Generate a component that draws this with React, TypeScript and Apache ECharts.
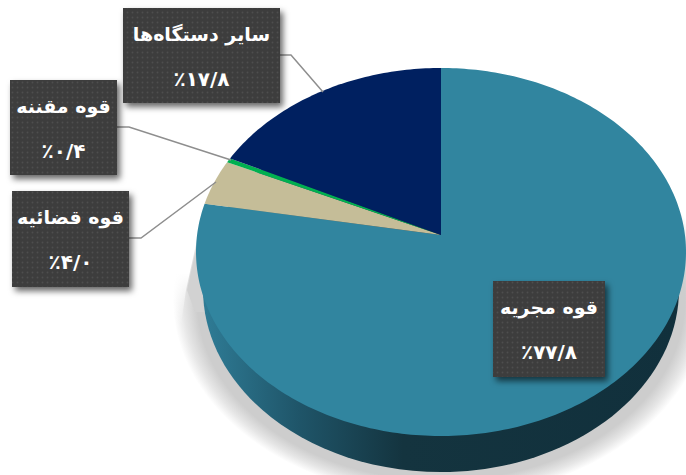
import React, { useEffect, useRef } from "react";
import * as echarts from "echarts";

const categories = ["قوه مجریه", "قوه قضائیه", "قوه مقننه", "سایر دستگاه‌ها"];
const shares = [77.8, 4.0, 0.4, 17.8];
const colors = ["#31859F", "#C5BD98", "#00B050", "#002060"];

// Label placement per category: box [x, y, w, h] and leader-line corner points.
const boxes = [
  [493, 281, 112, 96],
  [12, 191, 117, 96],
  [10, 80, 107, 95],
  [123, 8, 157, 95],
];
const leaders: number[][][] = [
  [],
  [[129, 238], [141, 238], [216, 182]],
  [[117, 127], [129, 127], [231, 160]],
  [[280, 55], [291, 55], [323, 92]],
];

const CX = 441, CY = 252, RX = 245, RY = 184, TILT = 0.092;
const FONT = '"DejaVu Sans", sans-serif';

// Perspective map from a point on the flat pie to the tilted disc,
// which sends the pie's centre slightly above the ellipse's centre.
function project(u: number, v: number): number[] {
  const d = 1 + TILT * v;
  const X = (u * Math.sqrt(1 - TILT * TILT)) / d;
  const Y = (v + TILT) / d;
  return [CX + RX * X, CY - RY * Y];
}

const persian = (n: number) =>
  n.toFixed(1).replace(".", "/").replace(/\d/g, (d) => "۰۱۲۳۴۵۶۷۸۹"[+d]);

function dotTile(): HTMLCanvasElement {
  const c = document.createElement("canvas");
  c.width = 5;
  c.height = 5;
  const g = c.getContext("2d")!;
  g.fillStyle = "#3D3D3D";
  g.fillRect(0, 0, 5, 5);
  g.fillStyle = "#4E4E4E";
  g.beginPath();
  g.arc(2.5, 2.5, 1, 0, Math.PI * 2);
  g.fill();
  return c;
}

export default function App() {
  const ref = useRef<HTMLDivElement>(null);
  useEffect(() => {
    const chart = echarts.init(ref.current!, undefined, { renderer: "svg" });
    const total = shares.reduce((a, b) => a + b, 0);
    const tile = dotTile();
    const pattern: any = { image: tile, repeat: "repeat", imageWidth: 5, imageHeight: 5 };

    const slices = (idx: number) => {
      const start = shares.slice(0, idx).reduce((a, b) => a + b, 0) / total;
      const end = start + shares[idx] / total;
      const apex = project(0, 0);
      const pts = [apex];
      const n = Math.max(2, Math.ceil((end - start) * 360));
      for (let i = 0; i <= n; i++) {
        const t = (start + ((end - start) * i) / n) * Math.PI * 2;
        pts.push(project(Math.sin(t), Math.cos(t)));
      }
      return pts;
    };

    const base = [
      {
        type: "ellipse",
        shape: { cx: 441, cy: 300, rx: 268, ry: 198 },
        style: {
          fill: {
            type: "radial", x: 0.5, y: 0.5, r: 0.5,
            colorStops: [
              { offset: 0, color: "rgba(205,205,205,1)" },
              { offset: 0.91, color: "rgba(205,205,205,1)" },
              { offset: 0.96, color: "rgba(205,205,205,0.5)" },
              { offset: 1, color: "rgba(205,205,205,0)" },
            ],
          },
        },
      },
      {
        type: "polygon",
        shape: { points: [[207, 195], [186, 290], [181, 325], [150, 325], [150, 195]] },
        style: {
          fill: {
            type: "linear", x: 0, y: 0, x2: 0, y2: 1,
            colorStops: [
              { offset: 0, color: "rgba(255,255,255,1)" },
              { offset: 0.6, color: "rgba(255,255,255,1)" },
              { offset: 1, color: "rgba(255,255,255,0)" },
            ],
          },
        },
      },
      {
        type: "polygon",
        shape: { points: [[207, 200], [187, 290], [195, 312], [215, 312], [215, 200]] },
        style: { fill: "#D2D2D2" },
      },
      {
        type: "ellipse",
        shape: { cx: 441, cy: 289, rx: 238, ry: 183 },
        style: {
          fill: {
            type: "linear", x: 0, y: 0, x2: 1, y2: 0,
            colorStops: [
              { offset: 0, color: "#2F7C96" },
              { offset: 0.2, color: "#1F5569" },
              { offset: 0.42, color: "#14343F" },
              { offset: 1, color: "#11303C" },
            ],
          },
        },
      },
    ];

    const option: any = {
      animation: false,
      backgroundColor: "#FFFFFF",
      series: [
        {
          type: "custom",
          coordinateSystem: "none",
          clip: false,
          silent: true,
          data: shares.map((v, i) => ({ name: categories[i], value: [v, i] })),
          renderItem: (params: any, api: any) => {
            const i = api.value(1);
            return {
              type: "group",
              children: [
                ...(i === 0 ? base : []),
                { type: "polygon", shape: { points: slices(i) }, style: { fill: colors[i] } },
              ],
            };
          },
          z: 1,
        },
        {
          type: "custom",
          coordinateSystem: "none",
          clip: false,
          silent: true,
          data: shares.map((v, i) => ({ name: categories[i], value: [v, i] })),
          renderItem: (params: any, api: any) => {
            const i = api.value(1);
            const [x, y, w, h] = boxes[i];
            const kids: any[] = [];
            if (leaders[i].length) {
              kids.push({
                type: "polyline",
                shape: { points: leaders[i] },
                style: { stroke: "#8E8E8E", lineWidth: 1.5, fill: "none" },
              });
            }
            kids.push(
              {
                type: "rect",
                shape: { x, y, width: w, height: h },
                style: {
                  fill: "#3D3D3D",
                  shadowBlur: 6,
                  shadowOffsetX: 3,
                  shadowOffsetY: 4,
                  shadowColor: "rgba(0,0,0,0.6)",
                },
              },
              { type: "rect", shape: { x, y, width: w, height: h }, style: { fill: pattern } },
              {
                type: "text",
                style: {
                  x: x + w / 2, y: y + 26, text: categories[i], fill: "#FFFFFF",
                  font: `bold 19px ${FONT}`, align: "center", verticalAlign: "middle",
                },
              },
              {
                type: "text",
                style: {
                  x: x + w / 2, y: y + 71, text: "٪" + persian(api.value(0)), fill: "#FFFFFF",
                  font: `bold 20px ${FONT}`, align: "center", verticalAlign: "middle",
                },
              }
            );
            return { type: "group", children: kids };
          },
          z: 5,
        },
      ],
    };
    chart.setOption(option);
    return () => chart.dispose();
  }, []);
  return (
    <div
      ref={ref}
      style={{ position: "absolute", left: 0, top: 0, width: 686, height: 475, overflow: "hidden" }}
    />
  );
}
